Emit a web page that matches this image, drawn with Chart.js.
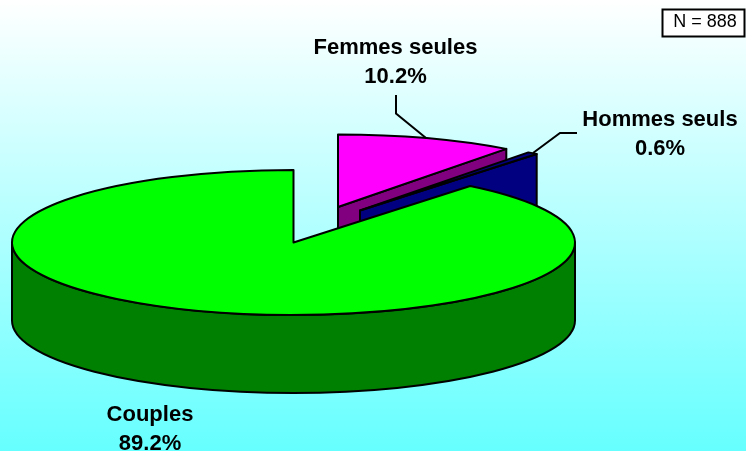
<!DOCTYPE html>
<html><head><meta charset="utf-8">
<style>html,body{margin:0;padding:0;background:#fff}canvas{display:block}</style>
<script src="https://cdn.jsdelivr.net/npm/chart.js@4"></script>
</head><body><canvas id="c" width="746" height="451"></canvas>
<script>
const categories = ['Femmes seules', 'Hommes seuls', 'Couples'];
const shares = [10.2, 0.6, 89.2];
const topColors = ['#ff00ff', '#000080', '#00ff00'];
const wallColors = ['#800080', '#000080', '#008000'];
const sampleLabel = 'N = 888';

const view = {cx: 293.5, cy: 242.5, rx: 281.5, ry: 72.5, depth: 78};
const explode = [[44.5, -35.5], [66.5, -32], [0, 0]];
const labelSpots = [[395.5, 48], [660, 120], [150, 415]];
const leaders = [
  [[396, 95], [396, 113.5], [426, 138]],
  [[533, 153], [560, 133], [577, 133]],
  []
];

const pie3d = {
  id: 'pie3d',
  beforeDraw(chart) {
    const {ctx, width, height} = chart;
    const g = ctx.createLinearGradient(0, 0, 0, height);
    g.addColorStop(0, '#ffffff');
    g.addColorStop(1, '#66ffff');
    ctx.save(); ctx.fillStyle = g; ctx.fillRect(0, 0, width, height); ctx.restore();
  },
  beforeDatasetsDraw(chart) {
    const {ctx} = chart;
    const arcs = chart.getDatasetMeta(0).data;
    ctx.save();
    ctx.lineJoin = 'round';
    ctx.strokeStyle = '#000';
    ctx.lineWidth = 2;
    arcs.forEach((arc, i) => {
      const cx = view.cx + explode[i][0], cy = view.cy + explode[i][1];
      const {rx, ry, depth} = view;
      const a0 = arc.startAngle, a1 = arc.endAngle;
      const px = a => cx + rx * Math.cos(a), py = a => cy + ry * Math.sin(a);
      ctx.fillStyle = wallColors[i];
      const from = Math.max(a0, 0), to = Math.min(a1, Math.PI);
      if (to > from) {
        ctx.beginPath();
        ctx.ellipse(cx, cy, rx, ry, 0, from, to);
        ctx.ellipse(cx, cy + depth, rx, ry, 0, to, from, true);
        ctx.closePath(); ctx.fill(); ctx.stroke();
      }
      const cut = Math.cos(a1) > 1e-6 ? a1 : (-Math.cos(a0) > 1e-6 ? a0 : null);
      if (cut !== null) {
        ctx.beginPath();
        ctx.moveTo(cx, cy); ctx.lineTo(px(cut), py(cut));
        ctx.lineTo(px(cut), py(cut) + depth); ctx.lineTo(cx, cy + depth);
        ctx.closePath(); ctx.fill(); ctx.stroke();
      }
      ctx.save();
      ctx.translate(cx, cy);
      ctx.scale(rx / arc.outerRadius, ry / arc.outerRadius);
      ctx.translate(-arc.x, -arc.y);
      arc.draw(ctx);
      ctx.restore();
      ctx.beginPath();
      ctx.moveTo(cx, cy);
      ctx.ellipse(cx, cy, rx, ry, 0, a0, a1);
      ctx.closePath(); ctx.stroke();
    });
    ctx.restore();
    return false;
  },
  afterDraw(chart) {
    const {ctx} = chart;
    ctx.save();
    ctx.strokeStyle = '#000';
    ctx.lineWidth = 2;
    ctx.lineJoin = 'miter';
    leaders.forEach(l => {
      if (!l.length) return;
      ctx.beginPath();
      l.forEach((p, k) => k ? ctx.lineTo(p[0], p[1]) : ctx.moveTo(p[0], p[1]));
      ctx.stroke();
    });
    ctx.fillStyle = '#000';
    ctx.textAlign = 'center';
    ctx.textBaseline = 'middle';
    ctx.font = 'bold 22px "Liberation Sans", Arial, sans-serif';
    categories.forEach((name, i) => {
      ctx.fillText(name, labelSpots[i][0], labelSpots[i][1]);
      ctx.fillText(shares[i].toFixed(1) + '%', labelSpots[i][0], labelSpots[i][1] + 28.5);
    });
    ctx.fillStyle = '#fff';
    ctx.fillRect(662.5, 9.5, 82, 27);
    ctx.lineWidth = 2;
    ctx.strokeRect(662.5, 9.5, 82, 27);
    ctx.fillStyle = '#000';
    ctx.font = '18px "Liberation Sans", Arial, sans-serif';
    ctx.fillText(sampleLabel, 705, 22);
    ctx.restore();
  }
};

new Chart(document.getElementById('c'), {
  type: 'pie',
  data: {
    labels: categories,
    datasets: [{data: shares, backgroundColor: topColors, borderWidth: 0}]
  },
  options: {
    responsive: false,
    animation: false,
    rotation: 0,
    layout: {padding: 0},
    plugins: {legend: {display: false}, tooltip: {enabled: false}, title: {display: false}}
  },
  plugins: [pie3d]
});
</script></body></html>
